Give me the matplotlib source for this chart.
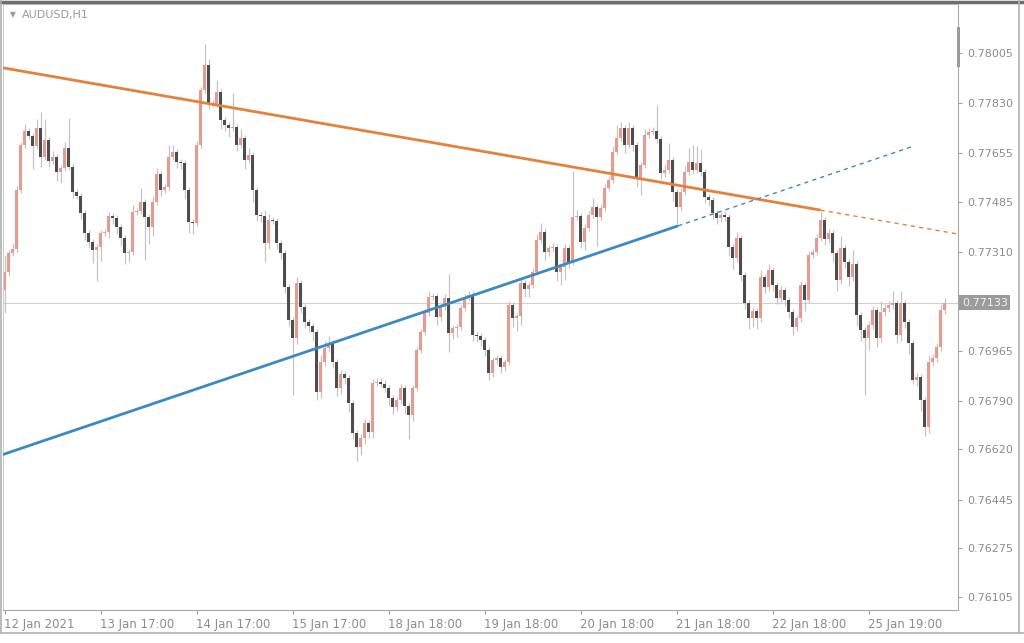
import numpy as np
import matplotlib
matplotlib.use("Agg")
import matplotlib.pyplot as plt
import matplotlib.transforms as mtransforms
from matplotlib.patches import Rectangle
from matplotlib.lines import Line2D

# AUDUSD H1 bars, prices in points (1e-5); open of each bar = close of previous
first_open = 77177
closes = [
    77240, 77306, 77320, 77526, 77684, 77732, 77715, 77680, 77743, 77642,
    77701, 77628, 77642, 77589, 77603, 77673, 77607, 77519, 77505, 77446,
    77376, 77345, 77317, 77327, 77376, 77380, 77436, 77429, 77397, 77359,
    77306, 77310, 77449, 77453, 77484, 77432, 77397, 77484, 77582, 77526,
    77537, 77642, 77659, 77624, 77621, 77526, 77415, 77411, 77684, 77876,
    77963, 77830, 77827, 77869, 77771, 77753, 77743, 77746, 77684, 77708,
    77631, 77649, 77526, 77439, 77436, 77341, 77422, 77418, 77341, 77306,
    77187, 77072, 77009, 77201, 77118, 77065, 77051, 77030, 76821, 76926,
    76974, 76992, 76926, 76835, 76884, 76870, 76782, 76678, 76629, 76660,
    76712, 76681, 76852, 76856, 76849, 76835, 76800, 76768, 76793, 76835,
    76772, 76740, 76835, 76967, 77030, 77097, 77153, 77156, 77083, 77118,
    77149, 77027, 77044, 77048, 77114, 77149, 77160, 77020, 77016, 77002,
    76967, 76887, 76933, 76940, 76908, 76926, 77125, 77079, 77086, 77201,
    77181, 77194, 77240, 77352, 77380, 77310, 77324, 77327, 77240, 77257,
    77324, 77275, 77432, 77436, 77345, 77394, 77439, 77467, 77432, 77463,
    77533, 77561, 77659, 77708, 77743, 77684, 77743, 77684, 77568, 77614,
    77718, 77729, 77732, 77704, 77586, 77596, 77631, 77519, 77467, 77519,
    77589, 77624, 77596, 77621, 77589, 77502, 77491, 77446, 77429, 77439,
    77432, 77327, 77289, 77359, 77229, 77132, 77079, 77104, 77079, 77222,
    77188, 77247, 77194, 77149, 77177, 77142, 77100, 77048, 77079, 77194,
    77142, 77299, 77310, 77359, 77422, 77355, 77376, 77306, 77212, 77324,
    77275, 77222, 77268, 77090, 77037, 77009, 77055, 77107, 77009, 77100,
    77114, 77125, 77132, 77020, 77132, 77065, 76992, 76863, 76873, 76793,
    76698, 76926, 76940, 76978, 77107, 77133,
]
up_wick = [
    60, 10, 20, 15, 10, 25, 10, 10, 30, 55,
    75, 10, 20, 10, 10, 20, 105, 10, 10, 10,
    10, 10, 10, 10, 10, 10, 15, 10, 10, 10,
    10, 10, 25, 10, 50, 10, 10, 20, 20, 10,
    10, 40, 25, 10, 10, 10, 10, 10, 15, 10,
    75, 20, 10, 40, 10, 10, 10, 120, 10, 30,
    10, 25, 10, 10, 10, 20, 20, 10, 10, 10,
    10, 10, 10, 20, 10, 10, 10, 10, 10, 25,
    25, 25, 10, 10, 15, 10, 10, 10, 10, 15,
    15, 10, 15, 15, 15, 15, 10, 10, 10, 15,
    10, 10, 10, 10, 10, 15, 20, 10, 10, 10,
    15, 85, 10, 10, 10, 15, 15, 15, 10, 10,
    10, 10, 10, 10, 10, 10, 15, 10, 10, 15,
    10, 10, 15, 20, 30, 15, 10, 15, 10, 10,
    15, 10, 160, 20, 10, 15, 15, 30, 10, 15,
    15, 15, 20, 45, 20, 10, 20, 10, 10, 10,
    20, 15, 15, 90, 10, 20, 60, 10, 10, 15,
    20, 50, 60, 60, 50, 10, 10, 10, 10, 10,
    15, 10, 10, 20, 10, 10, 10, 15, 10, 25,
    10, 20, 10, 10, 15, 10, 10, 10, 10, 15,
    10, 15, 10, 15, 30, 10, 15, 10, 10, 40,
    10, 10, 50, 10, 10, 10, 15, 15, 10, 40,
    15, 15, 40, 10, 40, 10, 10, 10, 15, 10,
    10, 25, 15, 15, 20, 15,
]
dn_wick = [
    80, 15, 10, 10, 10, 10, 10, 80, 10, 35,
    10, 20, 10, 30, 40, 10, 10, 20, 10, 20,
    25, 20, 45, 110, 50, 10, 20, 20, 25, 30,
    40, 30, 10, 10, 10, 150, 60, 30, 10, 20,
    10, 10, 10, 20, 20, 30, 40, 40, 10, 10,
    10, 20, 10, 10, 30, 20, 30, 10, 20, 10,
    30, 10, 40, 20, 20, 65, 20, 10, 20, 20,
    20, 20, 200, 20, 20, 20, 20, 30, 30, 20,
    15, 15, 20, 30, 20, 20, 30, 20, 50, 30,
    20, 20, 20, 10, 10, 15, 30, 25, 15, 15,
    30, 85, 20, 10, 10, 10, 10, 10, 30, 15,
    10, 65, 20, 30, 10, 10, 10, 20, 20, 20,
    20, 25, 15, 15, 20, 15, 10, 30, 45, 30,
    30, 30, 10, 10, 10, 30, 15, 15, 30, 45,
    45, 20, 10, 10, 20, 30, 10, 10, 100, 10,
    10, 10, 10, 10, 10, 30, 10, 20, 30, 60,
    10, 10, 10, 15, 20, 15, 10, 30, 60, 15,
    10, 10, 15, 10, 15, 20, 20, 20, 20, 15,
    15, 30, 40, 15, 20, 20, 40, 30, 40, 15,
    20, 15, 20, 20, 15, 20, 20, 30, 15, 15,
    40, 10, 10, 10, 10, 20, 15, 30, 40, 15,
    20, 30, 15, 40, 40, 200, 40, 15, 30, 15,
    15, 15, 15, 30, 20, 20, 40, 15, 20, 40,
    30, 20, 15, 15, 15, 15,
]

date_labels = ["12 Jan 2021", "13 Jan 17:00", "14 Jan 17:00", "15 Jan 17:00",
               "18 Jan 18:00", "19 Jan 18:00", "20 Jan 18:00", "21 Jan 18:00",
               "22 Jan 18:00", "25 Jan 19:00"]
label_bars = [0, 24, 48, 72, 96, 120, 144, 168, 192, 216]

price_ticks = [0.78005, 0.77830, 0.77655, 0.77485, 0.77310, 0.76965,
               0.76790, 0.76620, 0.76445, 0.76275, 0.76105]
bid = 0.77133

# trend lines: (bar, price) anchors of the solid part, then dashed extension end bar
res_bars, res_prices = [0, 204], [0.77952, 0.77456]
res_dash_to = 238.4
sup_bars, sup_prices = [0, 168.4], [0.76604, 0.77401]
sup_dash_to = 227.6

c = np.array(closes) / 1e5
o = np.concatenate([[first_open], closes[:-1]]) / 1e5
h = np.maximum(o, c) + np.array(up_wick) / 1e5
l = np.minimum(o, c) - np.array(dn_wick) / 1e5
x = np.arange(len(c))

bull_col = "#e59b90"
bear_col = "#4d4d4d"
wick_col = "#c4c4c4"
grey_txt = "#8c8c8c"

fig = plt.figure(figsize=(10.24, 6.43), dpi=100)
fig.patch.set_facecolor("white")
ax = fig.add_axes([3 / 1024, 1 - 610 / 643, 955 / 1024, 606 / 643])

ax.vlines(x, l, h, color=wick_col, linewidth=0.9, zorder=1)
up = c >= o
body_h = np.maximum(np.abs(c - o), 0.000012)
ax.bar(x, body_h, bottom=np.minimum(o, c), width=0.7,
       color=np.where(up, bull_col, bear_col), linewidth=0, zorder=2)

# bid line
ax.axhline(bid, color="#d0d0d0", linewidth=0.8, zorder=0)

# resistance (orange) and support (blue)
def line_at(bars, prices, b):
    k = (prices[1] - prices[0]) / (bars[1] - bars[0])
    return prices[0] + k * (b - bars[0])

ax.plot([-1, res_bars[1]], [line_at(res_bars, res_prices, -1), res_prices[1]],
        color="#e3823c", linewidth=2.0, zorder=3, solid_capstyle="butt")
ax.plot([res_bars[1], res_dash_to], [res_prices[1], line_at(res_bars, res_prices, res_dash_to)],
        color="#e3823c", linewidth=1.0, linestyle=(0, (3, 3)), zorder=3)
ax.plot([-1, sup_bars[1]], [line_at(sup_bars, sup_prices, -1), sup_prices[1]],
        color="#3b8ac4", linewidth=2.0, zorder=3, solid_capstyle="butt")
ax.plot([sup_bars[1], sup_dash_to], [sup_prices[1], line_at(sup_bars, sup_prices, sup_dash_to)],
        color="#3b8ac4", linewidth=1.0, linestyle=(0, (3, 3)), zorder=3)

ax.set_xlim(-0.375, 238.375)
ax.set_ylim(0.76059, 0.78176)

ax.yaxis.tick_right()
ax.set_yticks(price_ticks)
ax.set_yticklabels(["%.5f" % p for p in price_ticks])
ax.tick_params(axis="y", colors="#a0a0a0", labelcolor=grey_txt, labelsize=8,
               length=3, width=0.8, pad=4)
ax.set_xticks(label_bars)
ax.set_xticklabels(date_labels)
ax.tick_params(axis="x", colors="#a0a0a0", labelcolor=grey_txt, labelsize=8.5,
               length=3, width=0.8, pad=3)
for t in ax.get_xticklabels():
    t.set_ha("left")
    t.set_family(["Liberation Sans Narrow", "DejaVu Sans"])

for s in ["left", "top"]:
    ax.spines[s].set_color("#cfcfcf")
for s in ["right", "bottom"]:
    ax.spines[s].set_color("#a8a8a8")

# bid label box
trans = mtransforms.blended_transform_factory(ax.transAxes, ax.transData)
ax.text(1.004, bid, "0.77133", transform=trans, ha="left", va="center",
        fontsize=8, color="#f2f2f2",
        bbox=dict(boxstyle="square,pad=0.25", facecolor="#9b9b9b", edgecolor="none"))

# title
fig.text(10 / 1024, 1 - 15 / 643, "\u25bc", fontsize=5.5, color="#9a9a9a", va="center")
fig.text(22 / 1024, 1 - 15 / 643, "AUDUSD,H1", fontsize=8, color="#9a9a9a", va="center")

# scroll marker and window frame
fig.add_artist(Rectangle((957 / 1024, 1 - 67 / 643), 3 / 1024, 40 / 643,
                         transform=fig.transFigure, facecolor="#9a9a9a", edgecolor="none"))
fig.add_artist(Line2D([0, 1], [1 - 1.5 / 643, 1 - 1.5 / 643], transform=fig.transFigure,
                      color="#6e6e6e", linewidth=2.5))
fig.add_artist(Line2D([0, 1], [1 - 633 / 643, 1 - 633 / 643], transform=fig.transFigure,
                      color="#b0b0b0", linewidth=1.2))
fig.add_artist(Line2D([1019 / 1024, 1019 / 1024], [1 - 633 / 643, 1], transform=fig.transFigure,
                      color="#b0b0b0", linewidth=1.2))
fig.add_artist(Line2D([1 / 1024, 1 / 1024], [1 - 633 / 643, 1], transform=fig.transFigure,
                      color="#b0b0b0", linewidth=1.2))

fig.savefig("out.png", dpi=100)
